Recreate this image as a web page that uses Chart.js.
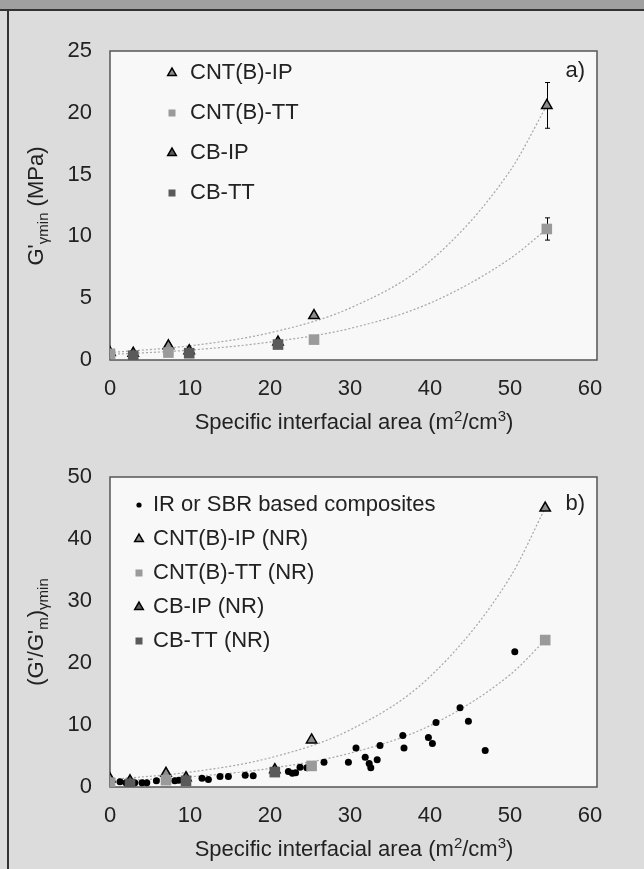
<!DOCTYPE html>
<html>
<head>
<meta charset="utf-8">
<script src="https://cdn.jsdelivr.net/npm/chart.js@4.4.1/dist/chart.umd.min.js"></script>
<style>
  body { margin: 0; width: 644px; height: 869px; background: #dcdcdc; position: relative; overflow: hidden;
         font-family: "Liberation Sans", Arial, sans-serif; color: #222; }
  #top { position: absolute; left: 0; top: 0; width: 644px; height: 9px; background: #a0a0a0; border-bottom: 2px solid #333; }
  #side { position: absolute; left: 7px; top: 9px; width: 2px; height: 860px; background: #333; }
  canvas { position: absolute; left: 0; }
  #chartA { top: 12px; }
  #chartB { top: 440px; }
  .lbl { position: absolute; font-size: 22px; line-height: 1; white-space: nowrap; }
  .ytitle { transform: translate(-50%, -50%) rotate(-90deg); }
  .xtitle { transform: translate(-50%, -50%); }
  sub, sup { font-size: 15px; line-height: 0; }
</style>
</head>
<body>
<div id="top"></div>
<div id="side"></div>
<canvas id="chartA" width="644" height="428"></canvas>
<canvas id="chartB" width="644" height="429"></canvas>

<div class="lbl ytitle" style="left:36px; top:206px;">G'<sub>γmin</sub> (MPa)</div>
<div class="lbl xtitle" style="left:354px; top:422px;">Specific interfacial area (m<sup>2</sup>/cm<sup>3</sup>)</div>
<div class="lbl" style="right:59px; top:59px;">a)</div>

<div class="lbl ytitle" style="left:36px; top:632px;">(G'/G'<sub>m</sub>)<sub>γmin</sub></div>
<div class="lbl xtitle" style="left:354px; top:849px;">Specific interfacial area (m<sup>2</sup>/cm<sup>3</sup>)</div>
<div class="lbl" style="right:59px; top:492px;">b)</div>

<script>
// panel a) G'γmin (MPa)
var aIpX = [0, 7.3, 25.5, 54.6];
var aIpY = [0.6, 1.15, 3.6, 20.6];
var aIpErr = [0, 0, 0, 1.85];
var aTtX = [0, 7.3, 25.5, 54.6];
var aTtY = [0.5, 0.6, 1.65, 10.6];
var aTtErr = [0, 0, 0, 0.9];
var aCbIpX = [2.9, 9.9, 21];
var aCbIpY = [0.55, 0.75, 1.45];
var aCbTtX = [2.9, 9.9, 21];
var aCbTtY = [0.35, 0.55, 1.25];
var aTrendX = [0, 10, 20, 30, 40, 50, 54.6];
var aTrendIpY = [0.6, 1.15, 2.2, 4.2, 8.0, 15.3, 20.6];
var aTrendTtY = [0.45, 0.8, 1.45, 2.55, 4.6, 8.2, 10.6];
var aYTicks = [0, 25, 5];

// panel b) (G'/G'm)γmin
var bIrX = [1.25, 2.0, 3.1, 4.0, 4.6, 5.8, 8.1, 8.6, 11.5, 12.3, 13.75, 14.8, 16.9, 17.9, 22.3, 22.8, 23.2, 23.75,
            24.6, 26.75, 29.8, 30.75, 31.9, 32.4, 32.6, 33.4, 33.75, 36.6, 36.75, 39.8, 40.3, 40.75, 43.75, 44.8, 46.9, 50.6];
var bIrY = [0.86, 0.7, 0.7, 0.7, 0.7, 1.0, 1.0, 1.1, 1.4, 1.2, 1.7, 1.7, 1.9, 1.8, 2.5, 2.2, 2.3, 3.2,
            3.1, 4.0, 4.0, 6.3, 4.8, 3.8, 3.1, 4.4, 6.7, 8.3, 6.3, 8.0, 7.0, 10.4, 12.8, 10.6, 5.9, 21.8];
var bIpX = [0, 7.0, 25.2, 54.4];
var bIpY = [1.3, 2.2, 7.6, 45];
var bTtX = [0, 7.0, 25.2, 54.4];
var bTtY = [0.7, 1.1, 3.4, 23.7];
var bCbIpX = [2.5, 9.5, 20.6];
var bCbIpY = [1.0, 1.5, 2.8];
var bCbTtX = [2.5, 9.5, 20.6];
var bCbTtY = [0.5, 1.0, 2.4];
var bTrendX = [0, 10, 20, 30, 40, 50, 54.4];
var bTrendIpY = [1.2, 2.4, 4.7, 9.2, 17.8, 33.8, 45];
var bTrendTtY = [0.9, 1.64, 3.0, 5.45, 9.9, 18.1, 23.7];
var bYTicks = [0, 50, 10];

var xTicks = [0, 60, 10];
var FONT = '"Liberation Sans", Arial, sans-serif';
Chart.defaults.font.family = FONT;
Chart.defaults.color = '#222';

function pts(xs, ys) {
    return xs.map(function (x, i) { return { x: x, y: ys[i] }; });
}
function marks(label, xs, ys, style, order) {
    return Object.assign({ label: label, data: pts(xs, ys), order: order }, style);
}
function trend(xs, ys, order) {
    return {
        label: 'trend', isTrend: true, data: pts(xs, ys), order: order, showLine: true,
        pointRadius: 0, borderColor: '#a6a6a6', borderWidth: 1.2, borderDash: [2, 2],
        cubicInterpolationMode: 'monotone', fill: false
    };
}
var IP = { pointStyle: 'triangle', pointRadius: 6, backgroundColor: '#8c8c8c', borderColor: '#000', borderWidth: 1.5 };
var TT = { pointStyle: 'rect', pointRadius: 7.5, backgroundColor: '#9a9a9a', borderColor: '#9a9a9a', borderWidth: 0 };
var CBIP = { pointStyle: 'triangle', pointRadius: 6, backgroundColor: '#5c5c5c', borderColor: '#000', borderWidth: 1.5 };
var CBTT = { pointStyle: 'rect', pointRadius: 7.5, backgroundColor: '#5a5a5a', borderColor: '#5a5a5a', borderWidth: 0 };
var DOT = { pointStyle: 'circle', pointRadius: 3.5, backgroundColor: '#000', borderColor: '#000', borderWidth: 0 };

// small dot for the legend
var dotImg = document.createElement('canvas');
dotImg.width = 6; dotImg.height = 6;
var dctx = dotImg.getContext('2d');
dctx.fillStyle = '#000';
dctx.beginPath(); dctx.arc(3, 3, 2.6, 0, Math.PI * 2); dctx.fill();

// plot background, frame, error bars, legend placement
function panelPlugin(legendLeft, legendTop, errs) {
    return {
        id: 'panel',
        beforeDraw: function (chart) {
            var a = chart.chartArea, ctx = chart.ctx;
            ctx.save();
            ctx.fillStyle = '#f8f8f8';
            ctx.fillRect(a.left, a.top, a.right - a.left, a.bottom - a.top);
            ctx.restore();
            var lg = chart.legend;
            lg.left = legendLeft; lg.top = legendTop;
            lg.right = legendLeft + lg.width; lg.bottom = legendTop + 400;
        },
        beforeDatasetsDraw: function (chart) {
            var a = chart.chartArea, ctx = chart.ctx;
            var xs = chart.scales.x, ys = chart.scales.y;
            ctx.save();
            ctx.strokeStyle = '#555';
            ctx.lineWidth = 1.5;
            ctx.strokeRect(a.left, a.top, a.right - a.left, a.bottom - a.top);
            ctx.strokeStyle = '#000';
            ctx.lineWidth = 1;
            errs.forEach(function (e) {
                var d = chart.data.datasets[e.ds].data;
                e.err.forEach(function (v, i) {
                    if (!v) return;
                    var px = Math.round(xs.getPixelForValue(d[i].x)) + 0.5;
                    var y1 = ys.getPixelForValue(d[i].y + v), y2 = ys.getPixelForValue(d[i].y - v);
                    ctx.beginPath();
                    ctx.moveTo(px, y1); ctx.lineTo(px, y2);
                    ctx.moveTo(px - 2.5, y1); ctx.lineTo(px + 2.5, y1);
                    ctx.moveTo(px - 2.5, y2); ctx.lineTo(px + 2.5, y2);
                    ctx.stroke();
                });
            });
            ctx.restore();
        }
    };
}

function makeOptions(yTicks, padTop, xHeight, legendPad, boxWidth) {
    return {
        responsive: false,
        animation: false,
        devicePixelRatio: 1,
        layout: { padding: { left: 50, right: 47, top: padTop, bottom: 0 } },
        plugins: {
            tooltip: { enabled: false },
            legend: {
                position: 'chartArea',
                align: 'start',
                labels: {
                    usePointStyle: true,
                    boxHeight: 7,
                    boxWidth: boxWidth,
                    padding: legendPad,
                    color: '#222',
                    font: { size: 22, family: FONT },
                    filter: function (item, data) { return !data.datasets[item.datasetIndex].isTrend; },
                    sort: function (p, q) { return p.datasetIndex - q.datasetIndex; },
                    generateLabels: function (chart) {
                        var items = Chart.defaults.plugins.legend.labels.generateLabels(chart);
                        items.forEach(function (it) {
                            if (chart.data.datasets[it.datasetIndex].isDot) it.pointStyle = dotImg;
                        });
                        return items;
                    }
                }
            }
        },
        scales: {
            x: {
                type: 'linear', min: xTicks[0], max: 60.875,
                grid: { display: false, drawTicks: false }, border: { display: false },
                ticks: { stepSize: xTicks[2], includeBounds: false, padding: 16, color: '#222', font: { size: 22 } },
                afterFit: function (s) { s.height = xHeight; }
            },
            y: {
                type: 'linear', min: yTicks[0], max: yTicks[1],
                grid: { display: false, drawTicks: false }, border: { display: false },
                ticks: { stepSize: yTicks[2], padding: 18, color: '#222', font: { size: 22 } },
                afterFit: function (s) { s.width = 60; }
            }
        }
    };
}

new Chart(document.getElementById('chartA'), {
    type: 'scatter',
    data: {
        datasets: [
            marks('CNT(B)-IP', aIpX, aIpY, IP, 4),
            marks('CNT(B)-TT', aTtX, aTtY, TT, 3),
            marks('CB-IP', aCbIpX, aCbIpY, CBIP, 2),
            marks('CB-TT', aCbTtX, aCbTtY, CBTT, 1),
            trend(aTrendX, aTrendIpY, 5),
            trend(aTrendX, aTrendTtY, 6)
        ]
    },
    options: makeOptions(aYTicks, 39, 80, 18, 14),
    plugins: [panelPlugin(147, 32, [{ ds: 0, err: aIpErr }, { ds: 1, err: aTtErr }])]
});

var bSets = [
    marks('IR or SBR based composites', bIrX, bIrY, DOT, 5),
    marks('CNT(B)-IP (NR)', bIpX, bIpY, IP, 4),
    marks('CNT(B)-TT (NR)', bTtX, bTtY, TT, 3),
    marks('CB-IP (NR)', bCbIpX, bCbIpY, CBIP, 2),
    marks('CB-TT (NR)', bCbTtX, bCbTtY, CBTT, 1),
    trend(bTrendX, bTrendIpY, 6),
    trend(bTrendX, bTrendTtY, 7)
];
bSets[0].isDot = true;

new Chart(document.getElementById('chartB'), {
    type: 'scatter',
    data: { datasets: bSets },
    options: makeOptions(bYTicks, 37, 82, 12, 6),
    plugins: [panelPlugin(124, 42, [])]
});
</script>
</body>
</html>
